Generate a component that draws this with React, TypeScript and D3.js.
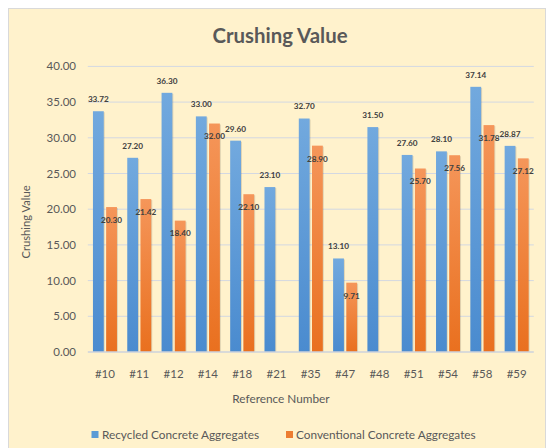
import React from "react";
import * as d3 from "d3";

const categories = ["#10", "#11", "#12", "#14", "#18", "#21", "#35", "#47", "#48", "#51", "#54", "#58", "#59"];
const recycled = [33.72, 27.2, 36.3, 33.0, 29.6, 23.1, 32.7, 13.1, 31.5, 27.6, 28.1, 37.14, 28.87];
const conventional: (number | null)[] = [20.3, 21.42, 18.4, 32.0, 22.1, null, 28.9, 9.71, null, 25.7, 27.56, 31.78, 27.12];
const seriesNames = ["Recycled Concrete Aggregates", "Conventional Concrete Aggregates"];
const yTicks = [0, 5, 10, 15, 20, 25, 30, 35, 40];

const W = 548, H = 448;
const margin = { left: 87.8, right: 14.2, top: 66.4, bottom: 96 };
const font = "Lato, 'Open Sans', sans-serif";

export default function App() {
  const x = d3.scaleBand<string>()
    .domain(categories)
    .range([margin.left, W - margin.right])
    .paddingInner(0.3)
    .paddingOuter(0.15);

  const xSub = d3.scaleBand<string>()
    .domain(["rca", "nca"])
    .range([0, x.bandwidth()])
    .paddingInner(0.18);

  const y = d3.scaleLinear()
    .domain([0, 40])
    .range([H - margin.bottom, margin.top]);

  const bw = xSub.bandwidth();

  return (
    <svg width={W} height={H} style={{ position: "absolute", left: 0, top: 0 }} fontFamily={font}>
      <defs>
        <linearGradient id="gBlue" x1="0" y1="0" x2="0" y2="1">
          <stop offset="0" stopColor="#72a9de" />
          <stop offset="1" stopColor="#4a8bcf" />
        </linearGradient>
        <linearGradient id="gOrange" x1="0" y1="0" x2="0" y2="1">
          <stop offset="0" stopColor="#f5965a" />
          <stop offset="1" stopColor="#e9701f" />
        </linearGradient>
      </defs>

      <rect x={0} y={0} width={W} height={H} fill="#fff" />
      <rect x={8.5} y={8.5} width={537} height={H} fill="#fff2cc" stroke="#d9d9d9" />

      <text x={280} y={43} textAnchor="middle" fontSize={20.4} fontWeight="bold" fill="#595959">
        Crushing Value
      </text>

      {/* grid + y labels */}
      {yTicks.map(t => (
        <g key={t}>
          {t > 0 && (
            <line x1={margin.left} x2={W - margin.right} y1={y(t)} y2={y(t)} stroke="#d3d8e2" strokeWidth={1} />
          )}
          <text x={76} y={y(t)} dy="0.35em" textAnchor="end" fontSize={11.5} fill="#595959">
            {t.toFixed(2)}
          </text>
        </g>
      ))}

      {/* bars */}
      {categories.map((c, i) => {
        const x0 = x(c)!;
        const r = recycled[i];
        const n = conventional[i];
        const xb = x0 + xSub("rca")!;
        const xo = x0 + xSub("nca")!;
        return (
          <g key={c}>
            <rect x={xb + 1} y={y(r) + 1} width={bw} height={y(0) - y(r) - 1} fill="#000" opacity={0.12} />
            <rect x={xb} y={y(r)} width={bw} height={y(0) - y(r)} fill="url(#gBlue)" />
            {n != null && (
              <>
                <rect x={xo + 1} y={y(n) + 1} width={bw} height={y(0) - y(n) - 1} fill="#000" opacity={0.12} />
                <rect x={xo} y={y(n)} width={bw} height={y(0) - y(n)} fill="url(#gOrange)" />
              </>
            )}
          </g>
        );
      })}

      {/* axis line */}
      <line x1={margin.left} x2={W - margin.right} y1={y(0)} y2={y(0)} stroke="#cdd2dc" strokeWidth={1.5} />

      {/* data labels */}
      {categories.map((c, i) => {
        const x0 = x(c)!;
        const r = recycled[i];
        const n = conventional[i];
        return (
          <g key={"l" + c} fontSize={8.2} fontWeight="bold" fill="#404040" textAnchor="middle">
            <text x={x0 + xSub("rca")! + bw / 2} y={y(r) - 12} dy="0.35em">{r.toFixed(2)}</text>
            {n != null && (
              <text x={x0 + xSub("nca")! + bw / 2} y={y(n) + 13} dy="0.35em">{n.toFixed(2)}</text>
            )}
          </g>
        );
      })}

      {/* x labels */}
      {categories.map(c => (
        <text key={"x" + c} x={x(c)! + x.bandwidth() / 2} y={374} dy="0.35em" textAnchor="middle" fontSize={11.5} fill="#595959">
          {c}
        </text>
      ))}

      <text x={281} y={399} dy="0.35em" textAnchor="middle" fontSize={11.8} fill="#595959">Reference Number</text>
      <text transform={`translate(26,222) rotate(-90)`} dy="0.35em" textAnchor="middle" fontSize={11.2} fill="#595959">
        Crushing Value
      </text>

      {/* legend */}
      <rect x={91.5} y={431} width={7} height={7} fill="#5b9bd5" />
      <text x={102} y={434.5} dy="0.35em" fontSize={11.8} fill="#595959">{seriesNames[0]}</text>
      <rect x={286} y={431} width={7} height={7} fill="#ed7d31" />
      <text x={296} y={434.5} dy="0.35em" fontSize={11.8} fill="#595959">{seriesNames[1]}</text>
    </svg>
  );
}
